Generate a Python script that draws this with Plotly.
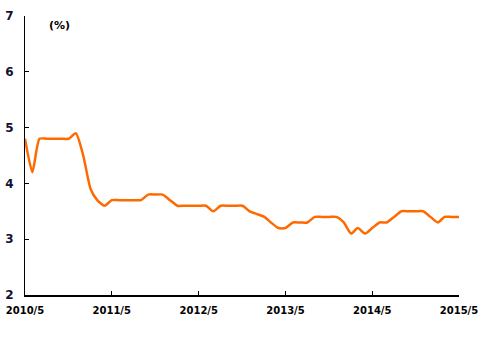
import pandas as pd
import plotly.graph_objects as go

# Monthly rate, May 2010 – May 2015 (%)
months = pd.date_range("2010-05-01", "2015-05-01", freq="MS")
rate = [
    4.8, 4.2, 4.8, 4.8, 4.8, 4.8, 4.8, 4.9, 4.5, 3.9, 3.7, 3.6,
    3.7, 3.7, 3.7, 3.7, 3.7, 3.8, 3.8, 3.8, 3.7, 3.6, 3.6, 3.6,
    3.6, 3.6, 3.5, 3.6, 3.6, 3.6, 3.6, 3.5, 3.45, 3.4, 3.3, 3.2,
    3.2, 3.3, 3.3, 3.3, 3.4, 3.4, 3.4, 3.4, 3.3, 3.1, 3.2, 3.1,
    3.2, 3.3, 3.3, 3.4, 3.5, 3.5, 3.5, 3.5, 3.4, 3.3, 3.4, 3.4,
    3.4,
]
tick_dates = pd.date_range("2010-05-01", "2015-05-01", freq="12MS")
tick_labels = [f"{d.year}/{d.month}" for d in tick_dates]
y_ticks = [2, 3, 4, 5, 6, 7]

fig = go.Figure(
    go.Scatter(
        x=months,
        y=rate,
        mode="lines",
        line=dict(color="#ff6a00", width=2.5, shape="spline", smoothing=0.6),
        hoverinfo="skip",
    )
)

fig.update_layout(
    width=482,
    height=343,
    margin=dict(l=25, r=23, t=16, b=48),
    paper_bgcolor="white",
    plot_bgcolor="white",
    showlegend=False,
    font=dict(family="DejaVu Sans", color="black"),
    annotations=[
        dict(
            text="(%)",
            x=0.05,
            y=0.965,
            xref="paper",
            yref="paper",
            xanchor="left",
            yanchor="middle",
            showarrow=False,
            font=dict(size=11, weight="bold", color="black"),
        )
    ],
)

fig.update_xaxes(
    range=[months[0], months[-1]],
    automargin=False,
    tickmode="array",
    tickvals=tick_dates,
    ticktext=tick_labels,
    ticks="inside",
    ticklen=4,
    tickcolor="black",
    showline=True,
    linecolor="black",
    linewidth=1.5,
    showgrid=False,
    zeroline=False,
    ticklabelstandoff=5,
    tickfont=dict(size=10, weight="bold", family="DejaVu Sans", color="black"),
)

fig.update_yaxes(
    range=[2, 7],
    automargin=False,
    tickmode="array",
    tickvals=y_ticks,
    ticks="inside",
    ticklen=4,
    tickcolor="black",
    showline=True,
    linecolor="black",
    linewidth=1,
    showgrid=False,
    zeroline=False,
    ticklabelstandoff=8,
    tickfont=dict(size=12, weight="bold", family="DejaVu Sans", color="#111133"),
)

fig.write_html("out.html")
